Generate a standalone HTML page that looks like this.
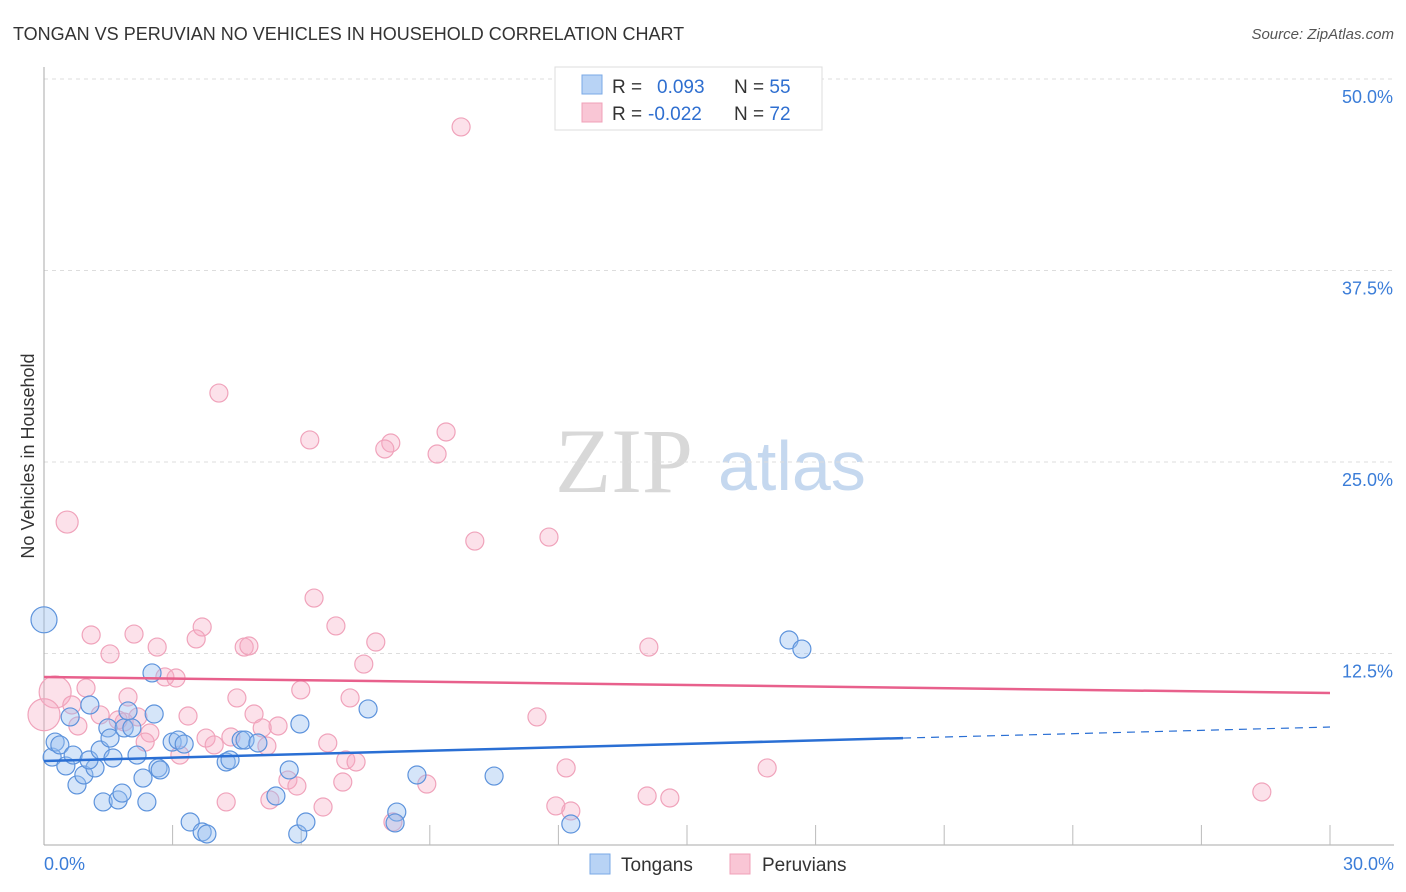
<!DOCTYPE html>
<html><head><meta charset="utf-8"><style>
body{margin:0;background:#fff;font-family:"Liberation Sans",sans-serif;}
svg{display:block}
</style></head><body>
<svg id="c" width="1406" height="892" xmlns="http://www.w3.org/2000/svg">
<text x="13" y="40" font-size="18" fill="#333">TONGAN VS PERUVIAN NO VEHICLES IN HOUSEHOLD CORRELATION CHART</text>
<text x="1394" y="39" font-size="15" fill="#555" font-style="italic" text-anchor="end">Source: ZipAtlas.com</text>
<g>
<text x="555" y="492" font-size="92" fill="#d8d8d8" font-family="Liberation Serif,serif">ZIP</text>
<text x="718" y="490" font-size="70" fill="#c5d8ef">atlas</text>
</g>
<g id="grid"></g><g id="axes"></g><g id="pts"></g><g id="lines"></g>
<text transform="translate(34,456) rotate(-90)" font-size="18" fill="#333" text-anchor="middle">No Vehicles in Household</text>
<g>
<rect x="555" y="67" width="267" height="63" fill="#fff" stroke="#ddd"/>
<rect x="582" y="75" width="20" height="19" fill="#b8d3f5" stroke="#7aa8e6"/>
<rect x="582" y="103" width="20" height="19" fill="#f9c6d5" stroke="#f0a0b8"/>
<text x="612" y="93" font-size="19" fill="#333">R = <tspan fill="#2f6fd0" x="657">0.093</tspan><tspan x="734" fill="#333">N = </tspan><tspan fill="#2f6fd0">55</tspan></text>
<text x="612" y="120" font-size="19" fill="#333">R = <tspan fill="#2f6fd0" x="648">-0.022</tspan><tspan x="734" fill="#333">N = </tspan><tspan fill="#2f6fd0">72</tspan></text>
</g>
<g>
<rect x="590" y="854" width="20" height="20" fill="#b8d3f5" stroke="#7aa8e6"/>
<text x="621" y="871" font-size="19" fill="#333">Tongans</text>
<rect x="730" y="854" width="20" height="20" fill="#f9c6d5" stroke="#f0a0b8"/>
<text x="762" y="871" font-size="19" fill="#333">Peruvians</text>
</g>
</svg>
<script>
const yTicks=[12.5,25,37.5,50];
const yTickLabels=["12.5%","25.0%","37.5%","50.0%"];
const xTickLabels=["0.0%","30.0%"];
const tonganX=[0,0.19,0.26,0.37,0.51,0.61,0.68,0.77,0.93,1.07,1.19,1.05,1.31,1.38,1.49,1.54,1.61,1.73,1.82,1.87,1.96,2.05,2.17,2.31,2.4,2.52,2.57,2.66,2.71,2.99,3.13,3.27,3.41,3.69,3.8,4.25,4.34,4.6,4.69,4.99,5.41,5.72,5.92,5.97,6.11,7.56,8.23,8.19,8.7,10.5,12.29,17.38,17.68];
const tonganY=[14.7,5.74,6.72,6.53,5.16,8.36,5.87,3.92,4.57,9.14,5.03,5.55,6.2,2.81,7.64,6.98,5.68,2.94,3.39,7.64,8.75,7.64,5.87,4.37,2.81,11.23,8.55,5.03,4.9,6.72,6.85,6.59,1.5,0.85,0.72,5.42,5.55,6.85,6.85,6.66,3.2,4.9,0.72,7.9,1.5,8.88,2.15,1.44,4.57,4.5,1.37,13.38,12.79];
const peruX=[9.73,4.08,6.2,8.09,7.95,9.38,9.17,0.54,10.05,11.78,6.3,6.81,3.69,1.1,2.1,7.74,4.67,4.78,3.55,14.11,1.54,7.46,2.64,2.82,3.08,0.26,0.98,1.96,5.99,4.5,7.14,0.65,1.31,3.36,4.9,11.5,1.87,1.73,2.19,2.47,2.36,0.79,3.78,4.36,5.46,5.09,3.97,3.17,5.2,6.62,7.04,7.28,12.18,16.87,5.69,5.9,6.97,8.93,4.25,5.27,6.51,11.94,12.29,14.07,14.6,8.14,28.41,0];
const peruY=[46.87,29.5,26.44,26.24,25.85,26.96,25.52,21.08,19.84,20.1,16.12,14.3,14.23,13.71,13.77,13.25,12.92,12.99,13.45,12.92,12.47,11.81,12.92,10.97,10.9,9.99,10.25,9.66,10.12,9.6,9.6,9.14,8.49,8.42,8.55,8.36,8.03,8.16,8.36,7.31,6.72,7.77,6.98,7.05,7.77,7.64,6.53,5.87,6.46,6.66,5.55,5.42,5.03,5.03,4.24,3.85,4.11,3.98,2.81,2.94,2.48,2.55,2.22,3.2,3.07,1.5,3.46,8.5];
const tonganTrend=[5.48,6.98,7.7]; // at x=0, 20.04, 30
const peruTrend=[10.97,9.92];

const NS="http://www.w3.org/2000/svg";
const X0=44,X1=1330,Y0=845,Y50=79;
const sx=v=>X0+(X1-X0)*v/30;
const sy=v=>Y0-(Y0-Y50)*v/50;
function mk(tag,attrs,parent){const e=document.createElementNS(NS,tag);for(const k in attrs)e.setAttribute(k,attrs[k]);parent.appendChild(e);return e;}
const grid=document.getElementById('grid'),axes=document.getElementById('axes'),pts=document.getElementById('pts'),lines=document.getElementById('lines');
yTicks.forEach((t,i)=>{
 const l=mk('line',{x1:X0,x2:1394,y1:sy(t),y2:sy(t),stroke:'#ddd','stroke-dasharray':'4,4'},grid);
 
 
 const tx=mk('text',{x:1393,y:sy(t)+24,'font-size':18,fill:'#3b7dd8','text-anchor':'end'},axes);
 tx.textContent=yTickLabels[i];
 
 
});
const ya=mk('line',{x1:X0,x2:X0,y1:67,y2:Y0,stroke:'#aaa'},axes);


const xa=mk('line',{x1:X0,x2:1394,y1:Y0,y2:Y0,stroke:'#aaa'},axes);


for(let i=1;i<=10;i++){
 const t=mk('line',{x1:sx(i*3),x2:sx(i*3),y1:825,y2:Y0,stroke:'#bbb'},axes);
 
 
}
[[0,'start',X0],[30,'end',1394]].forEach((d,i)=>{
 const t=mk('text',{x:d[2],y:870,'font-size':18,fill:'#3b7dd8','text-anchor':d[1]},axes);
 t.textContent=xTickLabels[i];
 
 
});
peruX.forEach((x,i)=>{
 const r=(i===7)?11:(i===25||i===67)?16:9;
 const c=mk('circle',{cx:sx(x),cy:sy(peruY[i]),r:r,fill:'rgba(246,170,196,0.35)',stroke:'#f0a3bb','stroke-width':1.2},pts);
 
 
});
tonganX.forEach((x,i)=>{
 const r=i===0?13:9;
 const c=mk('circle',{cx:sx(x),cy:sy(tonganY[i]),r:r,fill:'rgba(150,190,240,0.4)',stroke:'#5d93dc','stroke-width':1.2},pts);
 
 
});
const pl=mk('line',{x1:sx(0),y1:sy(peruTrend[0]),x2:sx(30),y2:sy(peruTrend[1]),stroke:'#e8608c','stroke-width':2.5},lines);


const bl=mk('line',{x1:sx(0),y1:sy(tonganTrend[0]),x2:sx(20.04),y2:sy(tonganTrend[1]),stroke:'#2a6fd4','stroke-width':2.5},lines);


const bd=mk('line',{x1:sx(20.04),y1:sy(tonganTrend[1]),x2:sx(30),y2:sy(tonganTrend[2]),stroke:'#2a6fd4','stroke-width':1.2,'stroke-dasharray':'8,6'},lines);


</script>
</body></html>
